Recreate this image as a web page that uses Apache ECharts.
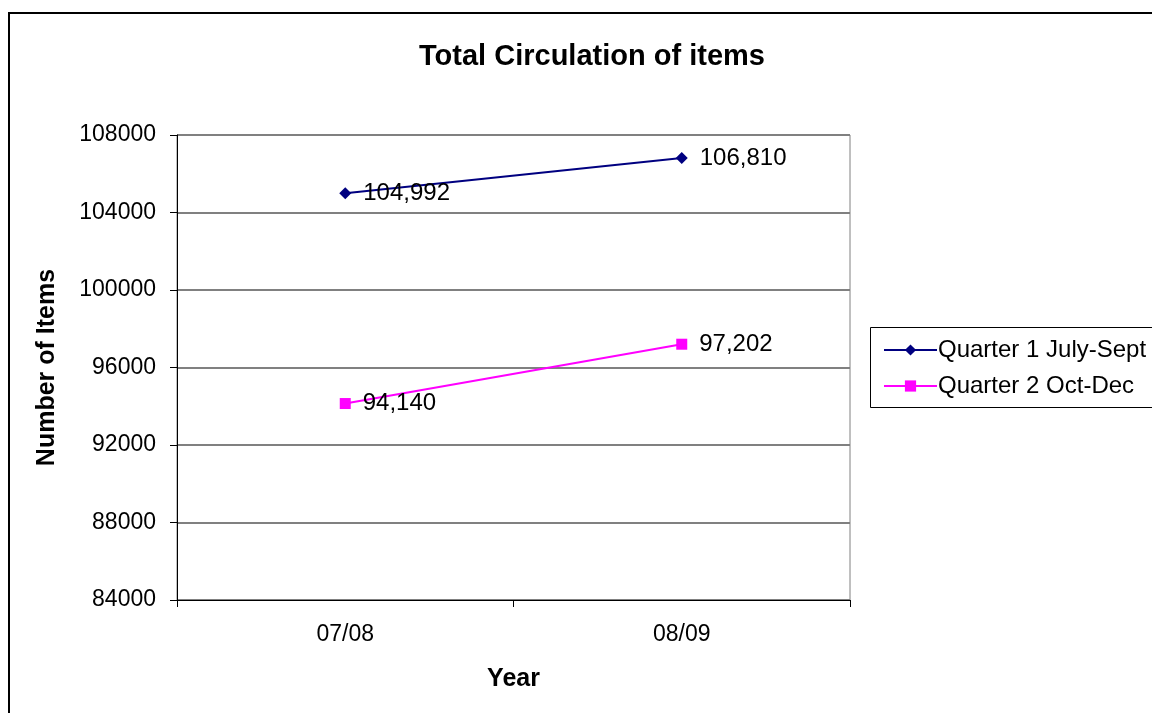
<!DOCTYPE html>
<html>
<head>
<meta charset="utf-8">
<style>
  html, body { margin: 0; padding: 0; background: #fff; }
  #chart { width: 1152px; height: 713px; }
</style>
<script src="https://cdn.jsdelivr.net/npm/echarts@6/dist/echarts.min.js"></script>
</head>
<body>
<div id="chart"></div>
<script>
// Circulation totals by fiscal year
const years = ['07/08', '08/09'];
const quarter1 = [104992, 106810];
const quarter2 = [94140, 97202];
const seriesNames = ['Quarter 1 July-Sept', 'Quarter 2 Oct-Dec'];

const font = '"Liberation Sans", Arial, sans-serif';
const chart = echarts.init(document.getElementById('chart'));

const fmt = v => v.toLocaleString('en-US');

chart.setOption({
  animation: false,
  backgroundColor: '#fff',
  textStyle: { fontFamily: font },
  title: {
    text: 'Total Circulation of items',
    left: 587, top: 37, textAlign: 'center',
    textStyle: { fontFamily: font, fontSize: 29, fontWeight: 'bold', color: '#000' }
  },
  graphic: [
    {
      type: 'rect', silent: true, z: -1,
      shape: { x: 9, y: 13, width: 1160, height: 720 },
      style: { fill: 'none', stroke: '#000', lineWidth: 2 }
    },
    {
      type: 'rect', silent: true, z: -1,
      shape: { x: 870.5, y: 327.5, width: 300, height: 80 },
      style: { fill: '#fff', stroke: '#000', lineWidth: 1 }
    }
  ],
  legend: {
    orient: 'vertical',
    left: 878, top: 333,
    itemGap: 12,
    itemWidth: 53, itemHeight: 14,
    textStyle: { fontFamily: font, fontSize: 24, color: '#000', padding: [0, 0, 0, -4] },
    data: seriesNames
  },
  grid: { left: 177, right: 302, top: 135, bottom: 113, show: true, borderColor: '#808080', borderWidth: 1 },
  xAxis: {
    type: 'category',
    data: years,
    boundaryGap: true,
    name: 'Year',
    nameLocation: 'middle',
    nameGap: 67,
    nameTextStyle: { fontFamily: font, fontSize: 25, fontWeight: 'bold', color: '#000' },
    axisLine: { lineStyle: { color: '#000', width: 1 } },
    axisTick: { show: true, length: 7, inside: false, lineStyle: { color: '#000' } },
    axisLabel: { fontFamily: font, fontSize: 23, color: '#000', margin: 23 },
    splitLine: { show: false }
  },
  yAxis: {
    type: 'value',
    min: 84000, max: 108000, interval: 4000,
    name: 'Number of Items',
    nameLocation: 'middle',
    nameGap: 117,
    nameRotate: 90,
    nameTextStyle: { fontFamily: font, fontSize: 25, fontWeight: 'bold', color: '#000' },
    axisLine: { show: true, lineStyle: { color: '#000', width: 1 } },
    axisTick: { show: true, length: 7, lineStyle: { color: '#000' } },
    axisLabel: { fontFamily: font, fontSize: 23, color: '#000', margin: 21, formatter: v => String(v) },
    splitLine: { show: true, lineStyle: { color: '#808080', width: 2 } }
  },
  series: [
    {
      name: seriesNames[0],
      type: 'line',
      data: quarter1,
      color: '#000080',
      lineStyle: { color: '#000080', width: 2 },
      symbol: 'diamond', symbolSize: 12,
      itemStyle: { color: '#000080' },
      label: {
        show: true, position: 'right', distance: 12,
        fontFamily: font, fontSize: 24, color: '#000',
        formatter: p => fmt(p.value)
      },
      z: 3
    },
    {
      name: seriesNames[1],
      type: 'line',
      data: quarter2,
      color: '#ff00ff',
      lineStyle: { color: '#ff00ff', width: 2 },
      symbol: 'rect', symbolSize: 11,
      itemStyle: { color: '#ff00ff' },
      label: {
        show: true, position: 'right', distance: 12,
        fontFamily: font, fontSize: 24, color: '#000',
        formatter: p => fmt(p.value)
      },
      z: 3
    }
  ]
});
</script>
</body>
</html>
